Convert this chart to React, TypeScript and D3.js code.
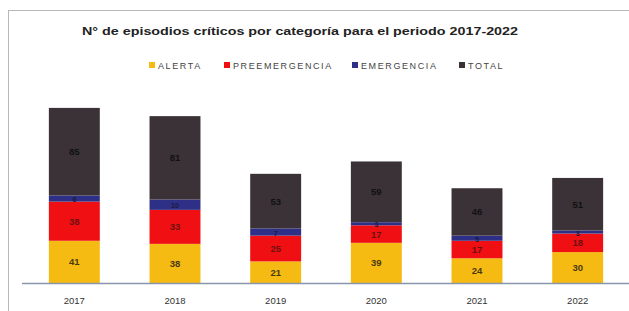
import React from "react";
import * as d3 from "d3";

const years = ["2017", "2018", "2019", "2020", "2021", "2022"];
const alerta = [41, 38, 21, 39, 24, 30];
const preemergencia = [38, 33, 25, 17, 17, 18];
const emergencia = [6, 10, 7, 3, 5, 3];
const total = [85, 81, 53, 59, 46, 51];
const seriesNames = ["ALERTA", "PREEMERGENCIA", "EMERGENCIA", "TOTAL"];
const seriesColors = ["#F6BB12", "#F01014", "#2E2F86", "#3A3236"];
const labelColors = ["#4a3a10", "#6e1010", "#1a1a40", "#111111"];
const title = "N° de episodios críticos por categoría para el periodo 2017-2022";

const W = 629;
const H = 311;

export default function App() {
  const x = d3.scaleBand<string>().domain(years).range([24, 628]).paddingInner(0.494).paddingOuter(0.247);
  const y = d3.scaleLinear().domain([0, 180]).range([283, 97.6]);
  const rows = years.map((yr, i) => ({
    year: yr,
    ALERTA: alerta[i],
    PREEMERGENCIA: preemergencia[i],
    EMERGENCIA: emergencia[i],
    TOTAL: total[i],
  }));
  const stack = d3.stack<any>().keys(seriesNames)(rows);

  const legendX = [149, 224, 352, 459];

  return (
    <svg width={W} height={H} style={{ position: "absolute", left: 0, top: 0, background: "#fff" }}>
      <rect x={8.5} y={10.5} width={640} height={320} fill="none" stroke="#b8b8b8" strokeWidth={1} />
      <text x={300} y={35} textAnchor="middle" fontFamily="Liberation Sans, Arial, sans-serif" fontWeight="bold" fontSize={10.5} fill="#222" textLength={436} lengthAdjust="spacingAndGlyphs">
        {title}
      </text>
      {seriesNames.map((s, i) => (
        <g key={s}>
          <rect x={legendX[i]} y={62} width={6} height={6} fill={seriesColors[i]} />
          <text x={legendX[i] + 9} y={68.5} fontFamily="Liberation Sans, Arial, sans-serif" fontSize={9} letterSpacing={1.6} fill="#444">
            {s}
          </text>
        </g>
      ))}
      {stack.map((layer, li) => (
        <g key={layer.key}>
          {layer.map((d, i) => (
            <rect
              key={i}
              x={x(years[i])}
              width={x.bandwidth()}
              y={y(d[1])}
              height={y(d[0]) - y(d[1])}
              fill={seriesColors[li]}
            />
          ))}
          {layer.map((d, i) => (
            <text
              key={"t" + i}
              x={(x(years[i]) as number) + x.bandwidth() / 2}
              y={(y(d[0]) + y(d[1])) / 2 + 3.5}
              textAnchor="middle"
              fontFamily="Liberation Sans, Arial, sans-serif"
              fontSize={li === 2 ? 7 : 9.5}
              fontWeight="bold"
              fill={labelColors[li]}
            >
              {d[1] - d[0]}
            </text>
          ))}
        </g>
      ))}
      <line x1={22} x2={629} y1={283.5} y2={283.5} stroke="#8796ad" strokeWidth={1.5} />
      {years.map((yr) => (
        <text
          key={yr}
          x={(x(yr) as number) + x.bandwidth() / 2}
          y={304}
          textAnchor="middle"
          fontFamily="Liberation Sans, Arial, sans-serif"
          fontSize={9.5}
          fill="#333"
        >
          {yr}
        </text>
      ))}
    </svg>
  );
}
